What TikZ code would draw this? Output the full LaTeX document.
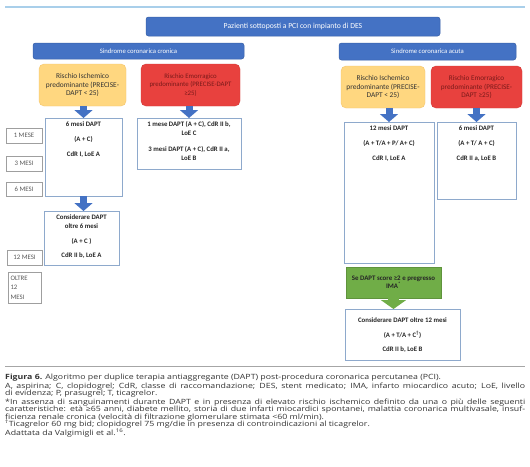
\documentclass[tikz,border=0pt]{standalone}
\usepackage{fontspec}
\setmainfont{Carlito}
\newfontfamily\capfont[FakeStretch=1.22]{Open Sans}
\usetikzlibrary{arrows.meta}
\definecolor{hdrblue}{HTML}{4472C4}
\definecolor{hdrborder}{HTML}{3A62A8}
\definecolor{ylw}{HTML}{FFD780}
\definecolor{ylwb}{HTML}{F3C56E}
\definecolor{rd}{HTML}{E8413E}
\definecolor{rdtext}{HTML}{7A1A1A}
\definecolor{wbord}{HTML}{8EA9CC}
\definecolor{grn}{HTML}{70AD47}
\definecolor{topline}{HTML}{A9CFEA}
\definecolor{capgray}{HTML}{333333}
\definecolor{tgray}{HTML}{595959}
\newcommand\wtext[3]{\begin{minipage}[t][#2pt][t]{#1pt}\centering\vspace*{3.3pt}#3\end{minipage}}
\tikzset{
  base/.style={anchor=north west, inner sep=0pt, outer sep=0pt, align=center},
  hdr/.style={base, fill=hdrblue, draw=hdrborder, line width=0.5pt, rounded corners=2.5pt, text=white},
  riskY/.style={base, fill=ylw, draw=ylwb, line width=0.4pt, rounded corners=5pt, text=black!80, font=\fontsize{7.4}{8.8}\selectfont},
  riskR/.style={base, fill=rd, draw=rd!90!black, line width=0.4pt, rounded corners=5pt, text=rdtext, font=\fontsize{6.8}{8.8}\selectfont},
  wbox/.style={base, fill=white, draw=wbord, line width=0.9pt, font=\fontsize{6.8}{9}\selectfont\bfseries, text=black!85},
  tbox/.style={base, fill=white, draw=gray!75, line width=0.8pt, font=\fontsize{6.8}{9.5}\selectfont, text=tgray},
  gbox/.style={base, fill=grn, draw=grn!85!black, line width=0.3pt, font=\fontsize{6.9}{8}\selectfont\bfseries, text=black!85},
  barrow/.style={draw=hdrblue, line width=7pt, -{Triangle[width=18pt,length=8pt]}},
  garrow/.style={draw=grn, line width=11pt, -{Triangle[width=25pt,length=9pt]}},
}
\begin{document}
\begin{tikzpicture}[x=1pt,y=-1pt]
\useasboundingbox (0,0) rectangle (530,466);
\fill[white] (0,0) rectangle (530,466);
\coordinate (tl1) at (5,7); \coordinate (tl2) at (525,7);
\draw[topline, line width=2.5pt] (tl1) -- (tl2);

\node[hdr, minimum width=294pt, minimum height=19pt, font=\fontsize{7.7}{9}\selectfont] (top) at (146,17) {Pazienti sottoposti a PCI con impianto di DES};
\node[hdr, minimum width=211pt, minimum height=16pt, font=\fontsize{6.7}{8}\selectfont] (scc) at (33,43) {Sindrome coronarica cronica};
\node[hdr, minimum width=177pt, minimum height=17pt, font=\fontsize{6.7}{8}\selectfont] (sca) at (339,43) {Sindrome coronarica acuta};

\node[riskY, minimum width=87pt, minimum height=42pt] (yl) at (39,64) {Rischio Ischemico\\predominante (PRECISE-\\DAPT {<} 25)};
\node[riskR, minimum width=99pt, minimum height=42pt] (rl) at (141,64) {Rischio Emorragico\\predominante (PRECISE-DAPT\\≥25)};
\node[riskY, minimum width=84pt, minimum height=42pt] (yr) at (341,66) {Rischio Ischemico\\predominante (PRECISE-\\DAPT {<} 25)};
\node[riskR, minimum width=91pt, minimum height=42pt, font=\fontsize{7.2}{8.8}\selectfont] (rr) at (431,66) {Rischio Emorragico\\predominante (PRECISE-\\DAPT ≥25)};

\node[wbox, minimum width=77pt, minimum height=78pt] (wl) at (45,118) {\wtext{77}{78}{6 mesi DAPT\\[6pt](A + C)\\[6pt]CdR I, LoE A}};
\node[wbox, minimum width=104pt, minimum height=51pt] (wr1) at (137,118) {\wtext{104}{51}{1 mese DAPT (A + C), CdR II b,\\LoE C\\[7pt]3 mesi DAPT (A + C), CdR II a,\\LoE B}};
\node[wbox, minimum width=75pt, minimum height=54pt] (cl) at (44,211) {\wtext{75}{54}{Considerare DAPT\\oltre 6 mesi\\[6pt](A + C )\\[5.4pt]CdR II b, LoE A}};
\node[wbox, minimum width=90pt, minimum height=141pt] (w12) at (344,122) {\wtext{90}{141}{12 mesi DAPT\\[6pt](A + T/A + P/ A+ C)\\[6pt]CdR I, LoE A}};
\node[wbox, minimum width=79pt, minimum height=77pt] (w6) at (437,122) {\wtext{79}{77}{6 mesi DAPT\\[6pt](A + T/ A + C)\\[6pt]CdR II a, LoE B}};
\node[gbox, minimum width=95pt, minimum height=31pt] (gr) at (346,267) {Se DAPT score ≥2 e pregresso\\IMA\textsuperscript{*}};
\node[wbox, minimum width=115pt, minimum height=51pt] (fin) at (345,309) {\wtext{115}{51}{\vspace*{5.5pt}Considerare DAPT oltre 12 mesi\\[5.5pt](A + T/A + C\textsuperscript{†})\\[5.5pt]CdR II b, LoE B}};

\node[tbox, minimum width=36pt, minimum height=15pt] (t1) at (6,128) {1 MESE};
\node[tbox, minimum width=36pt, minimum height=15pt] (t3) at (6,156) {3 MESI};
\node[tbox, minimum width=36pt, minimum height=14pt] (t6) at (6,182) {6 MESI};
\node[tbox, minimum width=35pt, minimum height=15pt] (t12) at (7,250) {12 MESI};
\node[tbox, minimum width=33pt, minimum height=31pt, align=left, text width=28pt] (tol) at (8,272) {OLTRE\\12\\MESI};

\draw[barrow] (wl.north |- yl.south) -- (wl.north);
\draw[barrow] (wr1.north |- rl.south) -- (wr1.north);
\draw[barrow] (wl.south) -- (wl.south |- cl.north);
\draw[barrow] (w12.north |- yr.south) -- (w12.north);
\draw[barrow] (w6.north |- rr.south) -- (w6.north);
\draw[garrow] (gr.south) -- (gr.south |- fin.north);

\coordinate (cl1) at (5,366); \coordinate (cl2) at (525,366);
\draw[gray!70, line width=0.8pt] (cl1) -- (cl2);

\node[anchor=north west, inner sep=0pt, text width=520pt, align=justify, text=capgray,
  font=\capfont\fontsize{7.2}{7.25}\selectfont] (cap) at (5,374) {\setlength\parskip{0pt}\setlength\parindent{0pt}\setlength\lineskiplimit{-6pt}%
{\bfseries Figura 6.} Algoritmo per duplice terapia antiaggregante (DAPT) post-procedura coronarica percutanea (PCI).\par\vspace{1.6pt}
A, aspirina; C, clopidogrel; CdR, classe di raccomandazione; DES, stent medicato; IMA, infarto miocardico acuto; LoE, livello\linebreak di evidenza; P, prasugrel; T, ticagrelor.\par\vspace{1.6pt}
*In assenza di sanguinamenti durante DAPT e in presenza di elevato rischio ischemico definito da una o più delle seguenti\linebreak caratteristiche: età ≥65 anni, diabete mellito, storia di due infarti miocardici spontanei, malattia coronarica multivasale, insuf-\linebreak ficienza renale cronica (velocità di filtrazione glomerulare stimata {<}60 ml/min).\par
\textsuperscript{†}Ticagrelor 60 mg bid; clopidogrel 75 mg/die in presenza di controindicazioni al ticagrelor.\par
Adattata da Valgimigli et al.\textsuperscript{16}.};
\end{tikzpicture}
\end{document}
